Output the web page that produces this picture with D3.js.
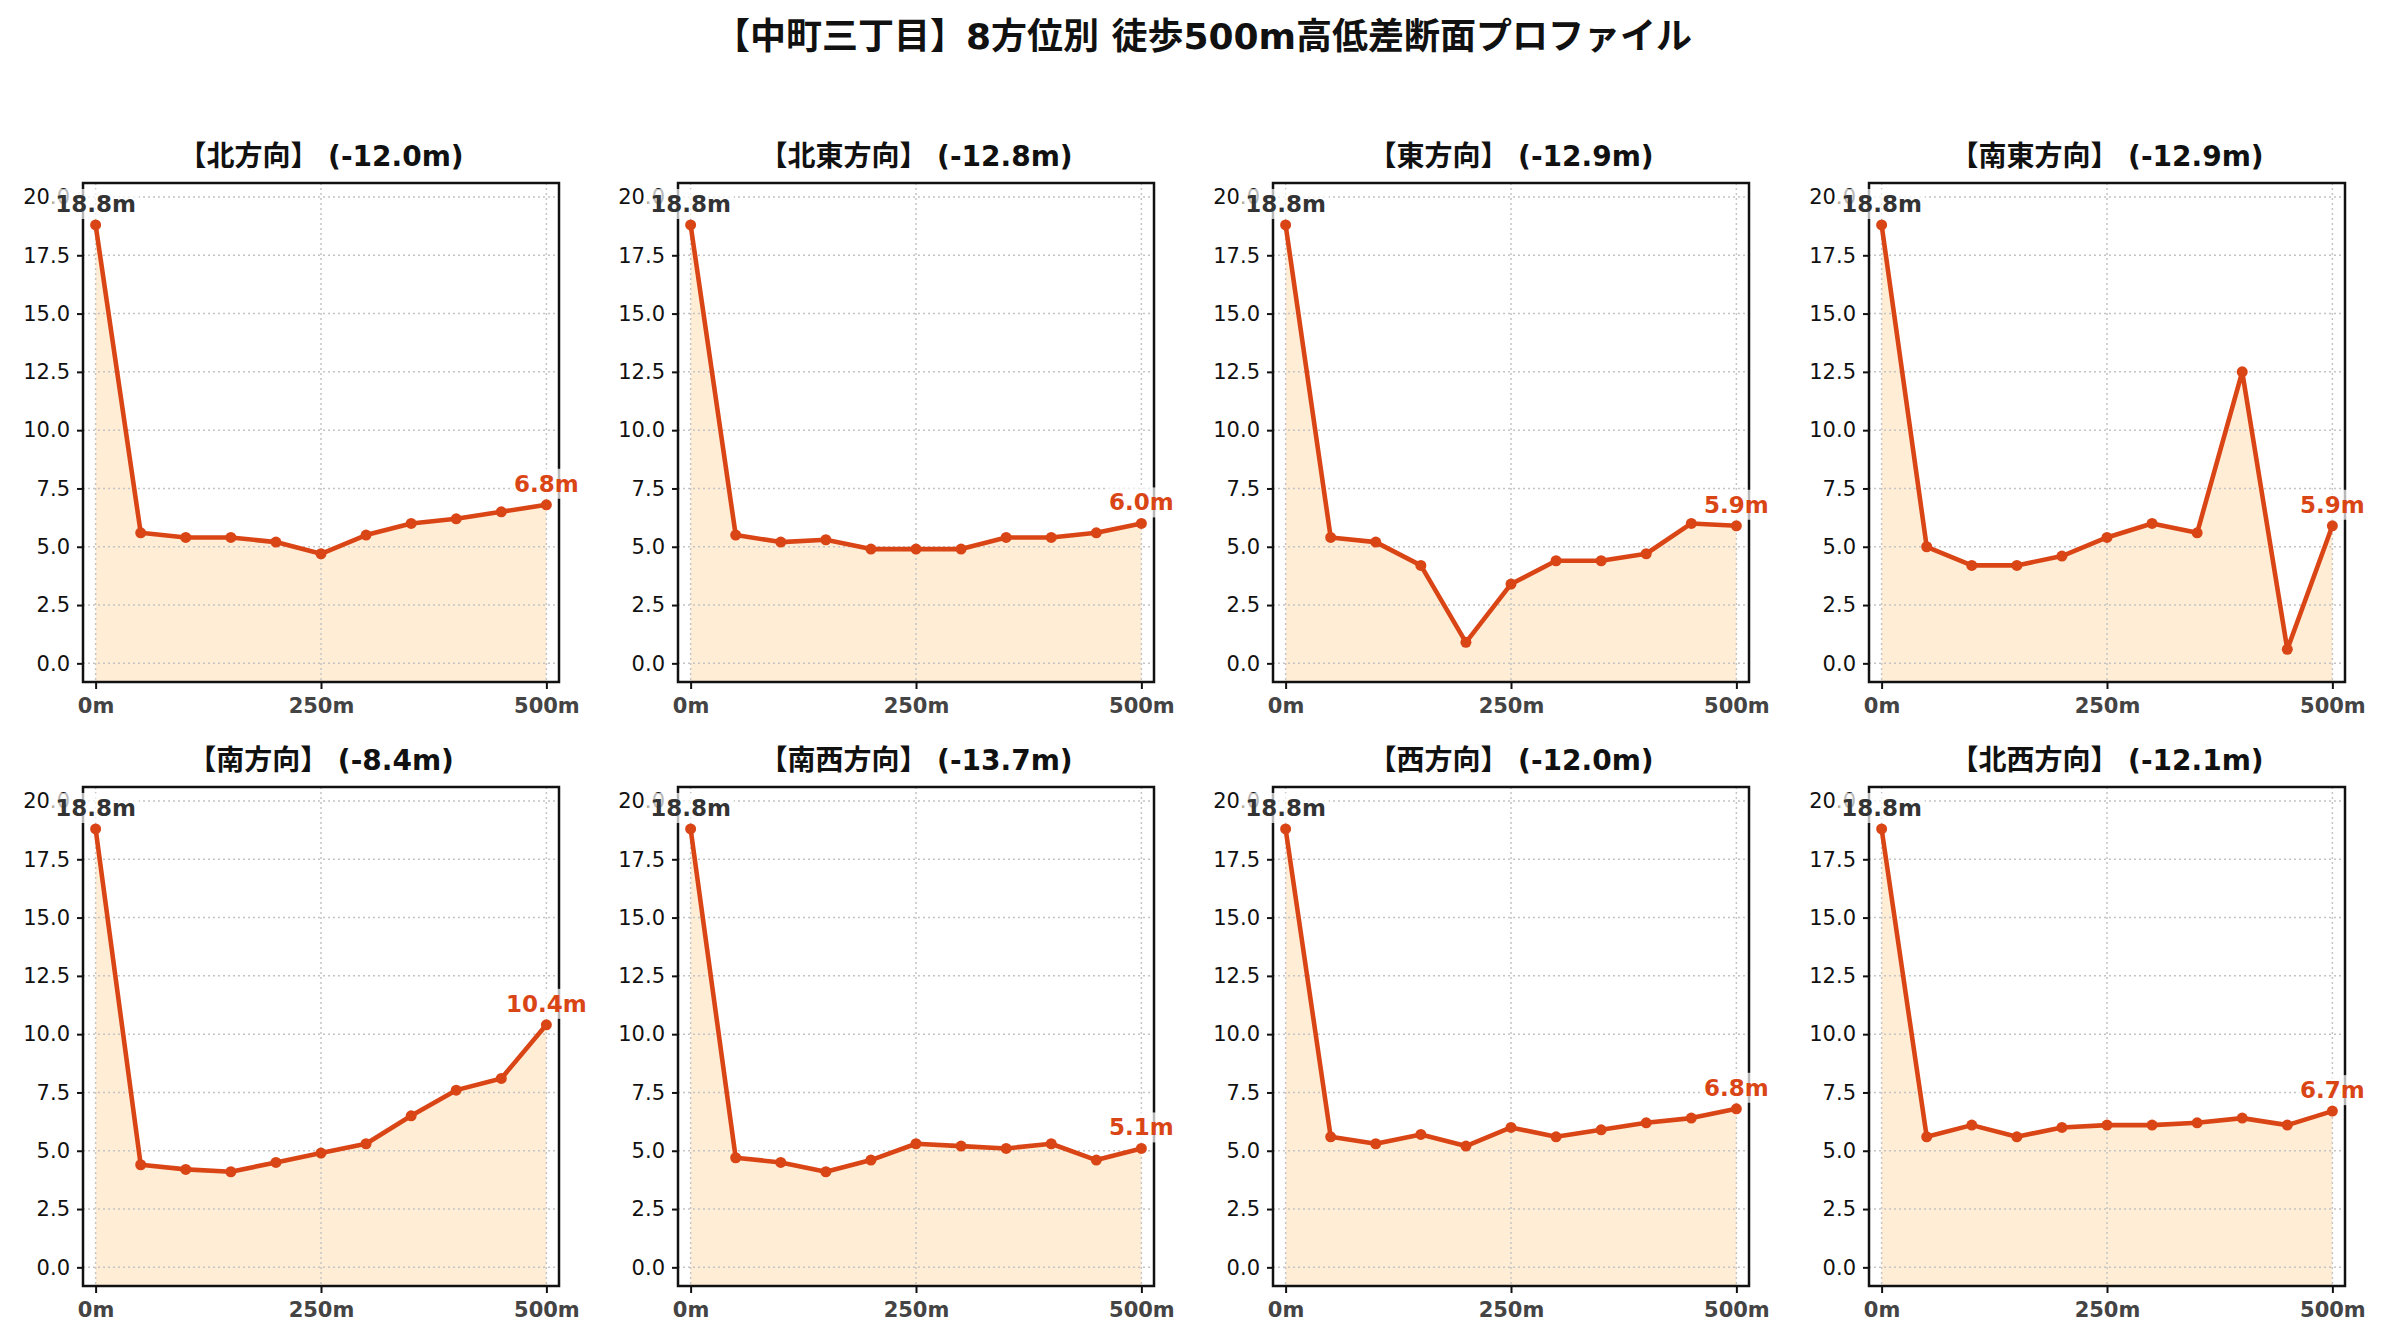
<!DOCTYPE html>
<html>
<head>
<meta charset="utf-8">
<script src="https://cdn.jsdelivr.net/npm/d3@7"></script>
<style>
  body { margin: 0; background: #fff; }
  svg { font-family: "DejaVu Sans", "Noto Sans CJK JP", sans-serif; }
</style>
</head>
<body>
<div id="chart"></div>
<script>
// distances along each walk (m)
const distances = [0, 50, 100, 150, 200, 250, 300, 350, 400, 450, 500];
const directions = ["北", "北東", "東", "南東", "南", "南西", "西", "北西"];

// elevation (m) at each distance, per direction
const elevN  = [18.8, 5.6, 5.4, 5.4, 5.2, 4.7, 5.5, 6.0, 6.2, 6.5, 6.8];
const elevNE = [18.8, 5.5, 5.2, 5.3, 4.9, 4.9, 4.9, 5.4, 5.4, 5.6, 6.0];
const elevE  = [18.8, 5.4, 5.2, 4.2, 0.9, 3.4, 4.4, 4.4, 4.7, 6.0, 5.9];
const elevSE = [18.8, 5.0, 4.2, 4.2, 4.6, 5.4, 6.0, 5.6, 12.5, 0.6, 5.9];
const elevS  = [18.8, 4.4, 4.2, 4.1, 4.5, 4.9, 5.3, 6.5, 7.6, 8.1, 10.4];
const elevSW = [18.8, 4.7, 4.5, 4.1, 4.6, 5.3, 5.2, 5.1, 5.3, 4.6, 5.1];
const elevW  = [18.8, 5.6, 5.3, 5.7, 5.2, 6.0, 5.6, 5.9, 6.2, 6.4, 6.8];
const elevNW = [18.8, 5.6, 6.1, 5.6, 6.0, 6.1, 6.1, 6.2, 6.4, 6.1, 6.7];
const series = [elevN, elevNE, elevE, elevSE, elevS, elevSW, elevW, elevNW];

const yTicks = [0, 2.5, 5, 7.5, 10, 12.5, 15, 17.5, 20];
const xTicks = [0, 250, 500];

const W = 2381, H = 1340;
const lineColor = "#da4516", fillColor = "#ffedd6";
const colLeft = [83, 678, 1273, 1869], rowTop = [183, 787];
const pw = 476, ph = 499;

const svg = d3.select("#chart").append("svg")
  .attr("width", W).attr("height", H);

svg.append("text")
  .attr("x", 1203).attr("y", 36)
  .attr("text-anchor", "middle").attr("dominant-baseline", "central")
  .attr("font-size", 36).attr("font-weight", "bold").attr("fill", "#111")
  .text("【中町三丁目】8方位別 徒歩500m高低差断面プロファイル");

const x = d3.scaleLinear().domain([-14, 514]).range([0, pw]);
const y = d3.scaleLinear().domain([-0.8, 20.6]).range([ph, 0]);

series.forEach((vals, i) => {
  const g = svg.append("g")
    .attr("transform", `translate(${colLeft[i % 4]},${rowTop[Math.floor(i / 4)]})`);
  const pts = distances.map((d, j) => ({d, v: vals[j]}));
  const diff = (vals[vals.length - 1] - vals[0]).toFixed(1);

  // title
  g.append("text")
    .attr("x", pw / 2).attr("y", -27)
    .attr("text-anchor", "middle").attr("dominant-baseline", "central")
    .attr("font-size", 28).attr("font-weight", "bold").attr("fill", "#111")
    .text(`【${directions[i]}方向】 (${diff}m)`);

  // fill under profile
  g.append("path").datum(pts)
    .attr("fill", fillColor)
    .attr("d", d3.area().x(p => x(p.d)).y0(ph).y1(p => y(p.v)));

  // grid
  g.append("g").selectAll("line").data(yTicks).join("line")
    .attr("x1", 0).attr("x2", pw).attr("y1", d => y(d)).attr("y2", d => y(d))
    .attr("stroke", "#c4c4c4").attr("stroke-width", 1.5).attr("stroke-dasharray", "2,3");
  g.append("g").selectAll("line").data(xTicks).join("line")
    .attr("y1", 0).attr("y2", ph).attr("x1", d => x(d)).attr("x2", d => x(d))
    .attr("stroke", "#c4c4c4").attr("stroke-width", 1.5).attr("stroke-dasharray", "2,3");

  // profile line and markers
  g.append("path").datum(pts)
    .attr("fill", "none").attr("stroke", lineColor).attr("stroke-width", 4.6)
    .attr("stroke-linejoin", "round")
    .attr("d", d3.line().x(p => x(p.d)).y(p => y(p.v)));
  g.append("g").selectAll("circle").data(pts).join("circle")
    .attr("cx", p => x(p.d)).attr("cy", p => y(p.v)).attr("r", 5.5)
    .attr("fill", lineColor);

  // frame
  g.append("rect").attr("width", pw).attr("height", ph)
    .attr("fill", "none").attr("stroke", "#111").attr("stroke-width", 2.5);

  // axes
  const ya = g.append("g")
    .call(d3.axisLeft(y).tickValues(yTicks).tickSize(6).tickPadding(7).tickFormat(d3.format(".1f")));
  const xa = g.append("g").attr("transform", `translate(0,${ph})`)
    .call(d3.axisBottom(x).tickValues(xTicks).tickSize(7).tickPadding(9).tickFormat(d => d + "m"));
  [ya, xa].forEach(a => {
    a.select(".domain").remove();
    a.selectAll(".tick line").attr("stroke", "#111").attr("stroke-width", 2);
    a.selectAll("text").attr("font-size", 21).attr("font-family", "DejaVu Sans, Noto Sans CJK JP");
  });
  ya.selectAll("text").attr("fill", "#111");
  xa.selectAll("text").attr("fill", "#444").attr("font-weight", "bold");

  // start / end labels
  const labels = [
    {p: pts[0], color: "#333"},
    {p: pts[pts.length - 1], color: lineColor}
  ];
  labels.forEach(l => {
    const t = g.append("text")
      .attr("x", x(l.p.d)).attr("y", y(l.p.v) - 21)
      .attr("text-anchor", "middle").attr("dominant-baseline", "central")
      .attr("font-size", 23).attr("font-weight", "bold").attr("fill", l.color)
      .text(l.p.v.toFixed(1) + "m");
    const b = t.node().getBBox();
    g.insert("rect", () => t.node())
      .attr("x", b.x - 3).attr("y", b.y - 2).attr("width", b.width + 6).attr("height", b.height + 4)
      .attr("fill", "#fff").attr("fill-opacity", 0.7);
  });
});
</script>
</body>
</html>
